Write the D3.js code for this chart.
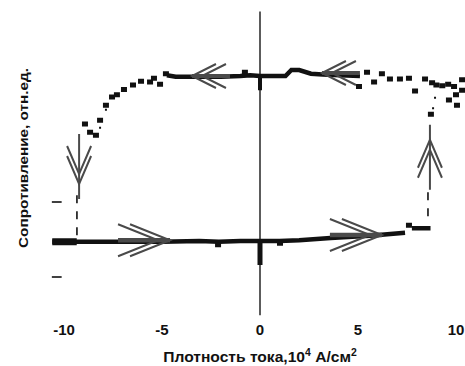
<!DOCTYPE html>
<html>
<head>
<meta charset="utf-8">
<script src="https://cdn.jsdelivr.net/npm/d3@7"></script>
<style>
  html, body { margin: 0; padding: 0; background: #fff; }
  svg { display: block; }
  text { font-family: "Liberation Sans", Arial, sans-serif; font-weight: bold; fill: #111; }
</style>
</head>
<body>
<svg id="chart" width="465" height="366"></svg>
<script>
// ---- data (current density in 10^4 A/cm^2, relative resistance) ----
const xTicks = [-10, -5, 0, 5, 10];
const yTicks = [0.5, 1.5];

// low-resistance branch (dense, drawn as a thick line)
const lowX = [-10.6, -9.3, -7.1, -5.0, -3.1, -2.1, -1.0, 0, 1.0, 2.0, 3.6, 5.6, 7.4];
const lowR = [0.97, 0.97, 0.97, 0.97, 0.98, 0.97, 0.98, 0.98, 0.98, 0.99, 1.02, 1.05, 1.09];
const lowLeadX = [-10.6, -9.35];           // thicker start
const lowLeadR = [0.97, 0.97];
const lowEndX = [7.75, 8.7];               // step before switching
const lowEndR = [1.15, 1.15];
const lowPtsX = [-2.14, 1.02, 7.6];
const lowPtsR = [0.93, 0.95, 1.19];
const zeroLowR = [0.98, 0.66];             // vertical scatter at J = 0 (low branch)

// high-resistance branch, dense part (thick line)
const highX = [-4.75, -4.3, -3.7, -3.0, -2.0, -1.0, -0.5, 0, 0.8, 1.3, 1.6, 2.0, 2.6, 3.2, 4.1, 5.1];
const highR = [3.19, 3.17, 3.17, 3.17, 3.17, 3.18, 3.19, 3.18, 3.18, 3.18, 3.26, 3.26, 3.21, 3.2, 3.19, 3.18];
const zeroHighR = [3.19, 2.99];            // vertical scatter at J = 0 (high branch)

// high-resistance branch, sparse points (square markers)
const ptsX = [-8.93, -8.67, -8.37, -8.16, -7.86, -7.55, -7.30, -6.94, -6.48, -6.07, -5.61, -5.41, -5.10, -4.80,
              -0.77, 5.05, 5.46, 5.82, 6.22, 6.63, 7.14, 7.60, 7.91, 8.42, 8.78, 9.0, 9.3, 9.6, 9.9,
              9.64, 10.0, 10.05, 10.31, 10.31, 8.72];
const ptsR = [2.54, 2.43, 2.39, 2.59, 2.79, 2.90, 2.93, 3.00, 3.06, 3.11, 3.10, 3.15, 3.07, 3.21,
              3.23, 3.04, 3.23, 3.10, 3.21, 3.14, 3.14, 3.15, 2.98, 3.14, 3.09, 3.06, 3.05, 3.07, 3.04,
              2.86, 2.93, 2.79, 2.99, 3.13, 2.67];
const dotX = [-8.16, -7.86, 8.83, 8.93];
const dotR = [2.49, 2.73, 2.75, 2.89];

// switching transitions (dashed)
const switchX = [-9.34, 8.57];
const switchTopR = [1.59, 1.63];
const switchBotR = [1.03, 1.23];

// direction arrows
const arrowX = [-3.47, 3.16, -4.59, 6.22, 8.67, -9.23];
const arrowR = [3.18, 3.22, 0.99, 1.06, 2.33, 1.74];
const arrowDir = ["left", "left", "right", "right", "up", "down"];
const arrowKind = ["small", "small", "large", "large", "vert", "vert"];

// ---- drawing ----
const svg = d3.select("#chart");
const x = d3.scaleLinear().domain([-10, 10]).range([64, 456]);
const y = d3.scaleLinear().domain([0, 4]).range([314.5, 14.5]);
const line = d3.line().x(d => x(d[0])).y(d => y(d[1]));
const zip = (a, b) => a.map((v, i) => [v, b[i]]);

const ink = "#111";
const grey = "#4a4a4a";

// vertical axis through J = 0
svg.append("line")
  .attr("x1", x(0)).attr("x2", x(0))
  .attr("y1", y(-0.01)).attr("y2", y(4.04))
  .attr("stroke", grey).attr("stroke-width", 1.8);

// y ticks (no labels)
svg.selectAll(".ytick").data(yTicks).enter().append("line")
  .attr("x1", x(-10.62)).attr("x2", x(-10.12))
  .attr("y1", d => y(d)).attr("y2", d => y(d))
  .attr("stroke", ink).attr("stroke-width", 1.6);

// x tick labels
svg.selectAll(".xlab").data(xTicks).enter().append("text")
  .attr("x", d => x(d)).attr("y", 335)
  .attr("text-anchor", "middle")
  .attr("font-size", 15)
  .text(d => String(d));

// dashed switching lines
svg.selectAll(".sw").data(switchX).enter().append("line")
  .attr("x1", d => x(d)).attr("x2", d => x(d))
  .attr("y1", (d, i) => y(switchTopR[i])).attr("y2", (d, i) => y(switchBotR[i]))
  .attr("stroke", ink).attr("stroke-width", 1.6)
  .attr("stroke-dasharray", "8,8");

// low branch
svg.append("path").attr("d", line(zip(lowX, lowR)))
  .attr("fill", "none").attr("stroke", ink).attr("stroke-width", 4.5);
svg.append("path").attr("d", line(zip(lowLeadX, lowLeadR)))
  .attr("fill", "none").attr("stroke", ink).attr("stroke-width", 7);
svg.append("path").attr("d", line(zip(lowEndX, lowEndR)))
  .attr("fill", "none").attr("stroke", ink).attr("stroke-width", 4.5);
svg.append("line")
  .attr("x1", x(0)).attr("x2", x(0))
  .attr("y1", y(zeroLowR[0])).attr("y2", y(zeroLowR[1]))
  .attr("stroke", ink).attr("stroke-width", 5);
svg.selectAll(".lp").data(zip(lowPtsX, lowPtsR)).enter().append("rect")
  .attr("x", d => x(d[0]) - 3).attr("y", d => y(d[1]) - 2.5)
  .attr("width", 6).attr("height", 5).attr("fill", ink);

// high branch
svg.append("path").attr("d", line(zip(highX, highR)))
  .attr("fill", "none").attr("stroke", ink).attr("stroke-width", 4.5);
svg.append("line")
  .attr("x1", x(0)).attr("x2", x(0))
  .attr("y1", y(zeroHighR[0])).attr("y2", y(zeroHighR[1]))
  .attr("stroke", ink).attr("stroke-width", 4);
svg.selectAll(".hp").data(zip(ptsX, ptsR)).enter().append("rect")
  .attr("x", d => x(d[0]) - 3).attr("y", d => y(d[1]) - 2.5)
  .attr("width", 6).attr("height", 5).attr("fill", ink);
svg.selectAll(".dp").data(zip(dotX, dotR)).enter().append("rect")
  .attr("x", d => x(d[0]) - 1).attr("y", d => y(d[1]) - 1)
  .attr("width", 2).attr("height", 2).attr("fill", ink);

// arrows
const kinds = {
  small: { len: 24, half: 12, gap: 10, behind: 38, ahead: 0, stem: 4 },
  large: { len: 40, half: 16, gap: 12, behind: 52, ahead: 0, stem: 4.5 },
  vert:  { len: 28, half: 12, gap: 10, behind: 50, ahead: 15, stem: 2 }
};
const dirs = { left: [-1, 0], right: [1, 0], up: [0, -1], down: [0, 1] };
arrowX.forEach((ax, i) => {
  const k = kinds[arrowKind[i]];
  const [dx, dy] = dirs[arrowDir[i]];
  const tx = x(ax), ty = y(arrowR[i]);
  const px = -dy, py = dx; // perpendicular
  const g = svg.append("g").attr("stroke", grey).attr("fill", "none").attr("stroke-linecap", "butt");
  g.append("line")
    .attr("x1", tx + dx * k.ahead).attr("y1", ty + dy * k.ahead)
    .attr("x2", tx - dx * k.behind).attr("y2", ty - dy * k.behind)
    .attr("stroke-width", k.stem);
  [0, 1].forEach(j => {
    const cx = tx - dx * k.gap * j, cy = ty - dy * k.gap * j;
    const bx = cx - dx * k.len, by = cy - dy * k.len;
    g.append("polyline")
      .attr("points", [[bx + px * k.half, by + py * k.half], [cx, cy], [bx - px * k.half, by - py * k.half]]
        .map(p => p.join(",")).join(" "))
      .attr("stroke-width", 2);
  });
});

// axis titles
function fitWidth(sel, target) {
  const bb = sel.node().getBBox();
  const s = target / bb.width;
  const cx = bb.x + bb.width / 2;
  return s;
}

const xt = svg.append("text").attr("font-size", 15).attr("text-anchor", "middle")
  .attr("x", 0).attr("y", 0);
xt.append("tspan").text("Плотность тока,10");
xt.append("tspan").attr("font-size", 10).attr("dy", -6).text("4");
xt.append("tspan").attr("dy", 6).text(" A/см");
xt.append("tspan").attr("font-size", 10).attr("dy", -6).text("2");
{
  const bb = xt.node().getBBox();
  const s = 194 / bb.width;
  xt.attr("transform", `translate(260,362) scale(${s},1)`);
}

const yt = svg.append("text").attr("font-size", 12.5).attr("text-anchor", "middle")
  .attr("x", 0).attr("y", 0).text("Сопротивление, отн.ед.");
{
  const bb = yt.node().getBBox();
  const s = 180 / bb.width;
  yt.attr("transform", `translate(28,158) rotate(-90) scale(${s},1)`);
}
</script>
</body>
</html>
